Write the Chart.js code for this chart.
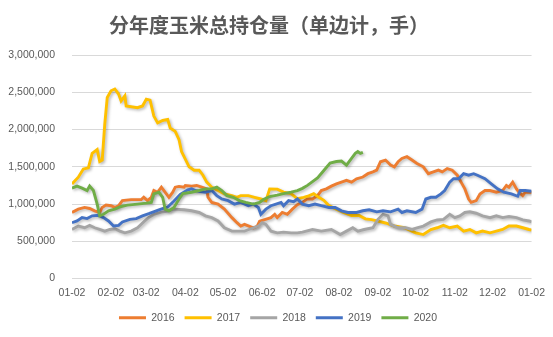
<!DOCTYPE html>
<html lang="zh-CN">
<head>
<meta charset="UTF-8">
<title>分年度玉米总持仓量</title>
<script src="https://cdn.jsdelivr.net/npm/chart.js@4/dist/chart.umd.min.js"></script>
<style>
html, body { margin: 0; padding: 0; background: #fff; }
#wrap { width: 553px; height: 337px; }
</style>
</head>
<body>
<div id="wrap"><canvas id="canvas"></canvas></div>

<script>
// x = 01-02 からの日数
var years  = ['2016', '2017', '2018', '2019', '2020'];
var colors = ['#ED7D31', '#FFC000', '#A5A5A5', '#4472C4', '#70AD47'];
var tickDays   = [0, 31, 59, 90, 120, 151, 181, 212, 243, 273, 304, 334, 365];
var tickLabels = ['01-02', '02-02', '03-02', '04-02', '05-02', '06-02', '07-02',
                  '08-02', '09-02', '10-02', '11-02', '12-02', '01-02'];

var days2016 = [0,5,10,14,18,22,24,27,31,34,37,40,47,55,57,60,63,65,68,71,73,77,80,82,85,89,90,95,99,103,107,108,111,116,121,127,131,134,137,141,144,147,149,153,158,161,163,167,171,175,179,183,187,191,195,198,202,206,210,214,218,222,226,231,235,239,242,245,249,253,256,259,262,266,270,274,279,283,287,291,294,298,302,306,309,312,315,317,321,324,328,332,337,342,345,347,350,353,355,358,360,365];
var hold2016 = [886,931,954,940,909,886,954,985,977,954,977,1045,1059,1059,1090,1045,1090,1181,1158,1226,1181,1090,1158,1226,1236,1226,1249,1240,1249,1226,1203,1090,1022,999,931,817,749,704,726,700,680,700,770,790,817,862,817,886,862,931,990,1022,1070,1067,1113,1181,1203,1240,1271,1294,1317,1294,1339,1362,1407,1431,1454,1567,1590,1522,1499,1567,1612,1635,1590,1544,1499,1407,1431,1454,1431,1475,1454,1386,1294,1203,1067,1022,1045,1135,1181,1181,1158,1181,1249,1226,1294,1203,1158,1113,1158,1158];

var days2017 = [0,5,9,13,16,20,22,24,26,28,31,34,37,39,42,43,52,56,59,62,65,68,72,76,78,82,85,87,93,97,101,104,107,111,116,121,127,131,134,140,145,150,154,157,163,168,174,179,184,188,192,196,200,204,210,215,222,228,233,238,243,249,256,264,270,273,279,285,290,295,300,306,311,316,321,326,332,337,342,347,353,358,363,365];
var hold2017 = [1270,1360,1470,1485,1680,1730,1570,1590,2070,2430,2520,2544,2476,2384,2452,2316,2293,2316,2407,2394,2180,2089,2121,2135,2020,1975,1862,1703,1499,1454,1454,1386,1294,1226,1181,1135,1113,1090,1113,1113,1090,1067,1045,1203,1200,1160,1140,1070,1090,1110,1140,1090,1050,980,930,890,845,845,800,790,770,745,704,681,636,613,590,658,681,713,681,704,636,658,613,636,613,636,658,704,704,681,658,650];

var days2018 = [0,5,10,14,18,22,26,30,34,38,42,47,52,57,61,65,71,76,81,89,95,101,106,111,116,121,127,132,137,142,148,151,154,158,163,168,174,179,183,191,198,206,213,218,223,227,232,239,243,247,251,253,259,265,270,274,279,285,290,295,300,304,308,312,316,321,326,332,337,342,347,353,358,363,365];
var hold2018 = [658,704,681,713,681,658,636,658,668,636,613,636,681,760,820,860,890,905,931,922,909,886,841,817,772,681,636,636,636,668,704,749,726,636,613,623,613,613,623,658,636,658,590,636,681,636,658,681,794,862,841,726,681,681,658,681,704,759,786,794,862,817,841,886,895,876,841,817,841,817,831,817,786,772,760];

var days2019 = [0,4,8,12,16,21,25,29,33,37,40,46,51,56,61,69,76,81,86,92,95,98,102,106,111,115,119,124,129,134,140,144,148,150,154,158,162,166,168,172,176,179,183,188,193,198,204,209,214,219,226,231,236,242,247,253,259,262,266,273,278,281,285,289,293,296,300,303,307,311,315,319,322,328,333,338,343,349,354,356,360,365];
var hold2019 = [749,772,817,804,841,849,817,772,704,713,759,794,804,841,870,920,960,1040,1130,1190,1203,1181,1168,1158,1181,1113,1067,1045,999,1022,977,999,954,862,931,977,999,1022,977,1045,1031,1067,999,977,999,977,954,954,909,886,886,909,922,895,909,895,931,886,909,886,931,1067,1090,1090,1135,1181,1294,1339,1339,1407,1386,1407,1386,1339,1271,1203,1158,1135,1104,1181,1181,1172];

var days2020 = [0,4,8,12,14,17,20,22,25,29,34,39,44,52,59,63,65,69,72,74,77,81,85,88,95,101,106,111,115,119,123,128,133,138,144,149,152,157,163,168,174,179,183,187,191,195,198,202,205,210,214,218,222,225,227,229,231];
var hold2020 = [1213,1240,1213,1181,1240,1181,999,841,862,909,931,967,985,999,1012,1022,1135,1158,1090,931,909,954,1067,1140,1158,1181,1203,1203,1226,1181,1113,1090,1045,1022,999,1022,1060,1100,1120,1140,1160,1180,1210,1250,1300,1350,1410,1490,1550,1570,1576,1522,1612,1680,1703,1680,1693];

var allDays = [days2016, days2017, days2018, days2019, days2020];
var allHold = [hold2016, hold2017, hold2018, hold2019, hold2020];

function withCommas(v) {
  return String(v).replace(/\B(?=(\d{3})+(?!\d))/g, ',');
}

// 線の影
var shadowPlugin = {
  id: 'lineShadow',
  beforeDatasetDraw: function(chart) {
    var ctx = chart.ctx;
    ctx.save();
    ctx.shadowColor = 'rgba(0,0,0,0.28)';
    ctx.shadowBlur = 3;
    ctx.shadowOffsetX = 1.5;
    ctx.shadowOffsetY = 1.5;
  },
  afterDatasetDraw: function(chart) {
    chart.ctx.restore();
  }
};

// 凡例を少し右へ
var legendShift = {
  id: 'legendShift',
  afterLayout: function(chart) {
    chart.legend.left += 9;
    chart.legend.right += 9;
  }
};

var datasets = years.map(function(y, i) {
  return {
    label: y,
    data: allDays[i].map(function(d, j) { return {x: d, y: allHold[i][j] * 1000}; }),
    borderColor: colors[i],
    backgroundColor: colors[i],
    borderWidth: 2.9,
    pointRadius: 0,
    tension: 0,
    fill: false,
    order: years.length - i   // 2020 を一番上に
  };
});

Chart.defaults.font.family = '"Liberation Sans", Arial, sans-serif';
Chart.defaults.color = '#595959';

window.onload = function() {
  var ctx = document.getElementById('canvas').getContext('2d');
  window.myChart = new Chart(ctx, {
    type: 'line',
    data: { datasets: datasets },
    plugins: [shadowPlugin, legendShift],
    options: {
      responsive: true,
      maintainAspectRatio: false,
      animation: false,
      layout: { padding: { left: 0, right: 15, top: 0, bottom: 4 } },
      plugins: {
        title: {
          display: true,
          text: '分年度玉米总持仓量（单边计，手）',
          color: '#595959',
          font: { family: '"Noto Sans CJK SC", sans-serif', size: 20, weight: 'bold' },
          padding: { top: 13, bottom: 18 }
        },
        legend: {
          position: 'bottom',
          labels: {
            usePointStyle: true,
            pointStyle: 'line',
            pointStyleWidth: 27,
            padding: 10,
            font: { size: 10.5 },
            color: '#595959',
            sort: function(a, b) { return a.datasetIndex - b.datasetIndex; }
          }
        },
        tooltip: { enabled: false }
      },
      scales: {
        x: {
          type: 'linear',
          min: 0,
          max: 365,
          grid: { display: false, drawTicks: false },
          border: { display: false },
          afterBuildTicks: function(axis) {
            axis.ticks = tickDays.map(function(v) { return {value: v}; });
          },
          afterFit: function(axis) { axis.height = 24; },
          ticks: {
            autoSkip: false,
            maxRotation: 0,
            padding: 8,
            font: { size: 10.5 },
            color: '#595959',
            callback: function(v) {
              var i = tickDays.indexOf(v);
              return i >= 0 ? tickLabels[i] : '';
            }
          }
        },
        y: {
          min: 0,
          max: 3000000,
          grid: { color: '#D9D9D9', drawTicks: false },
          border: { display: false },
          afterFit: function(axis) { axis.width = 72; },
          ticks: {
            stepSize: 500000,
            padding: 17,
            font: { size: 10.5 },
            color: '#595959',
            callback: function(v) { return withCommas(v); }
          }
        }
      }
    }
  });
};
</script>
</body>
</html>
